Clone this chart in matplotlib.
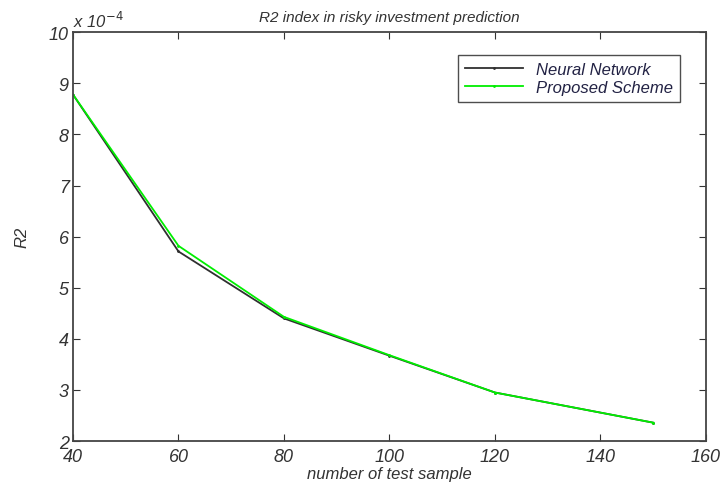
import matplotlib.pyplot as plt

plt.rcParams['font.family'] = ['Liberation Sans', 'DejaVu Sans']

samples = [40, 60, 80, 100, 120, 150]
neural_network = [8.78, 5.71, 4.40, 3.67, 2.95, 2.36]
proposed_scheme = [8.78, 5.82, 4.43, 3.68, 2.95, 2.36]

fig = plt.figure(figsize=(7.25, 4.89), dpi=100)
ax = fig.add_axes([0.1007, 0.096, 0.873, 0.836])

ax.plot(samples, neural_network, color='#303030', lw=1.3, marker='.', ms=2, label='Neural Network')
ax.plot(samples, proposed_scheme, color='#00ee00', lw=1.3, marker='.', ms=2, label='Proposed Scheme')

ax.set_xlim(40, 160)
ax.set_ylim(2, 10)
ax.set_xticks(range(40, 161, 20))
ax.set_yticks(range(2, 11))
ax.tick_params(direction='in', top=True, right=True, length=5, labelsize=13, colors='#333333', pad=3)
ax.tick_params(axis='x', pad=5)
for lbl in ax.get_xticklabels() + ax.get_yticklabels():
    lbl.set_style('italic')
for sp in ax.spines.values():
    sp.set_linewidth(1.3)
    sp.set_color('#444444')

ax.set_title('R2 index in risky investment prediction', fontsize=11, style='italic', color='#333333', pad=8)
ax.set_xlabel('number of test sample', fontsize=12, style='italic', color='#333333', labelpad=1)
ax.set_ylabel('R2', fontsize=12, style='italic', color='#333333', labelpad=14)
ax.text(0.0, 1.005, r'x 10$^{-4}$', transform=ax.transAxes, fontsize=12, style='italic', color='#333333', va='bottom', ha='left')

leg = ax.legend(loc='upper right', bbox_to_anchor=(0.972, 0.965), fontsize=12, frameon=True, fancybox=False, handlelength=3.5, borderpad=0.4, labelspacing=0.2)
leg.get_frame().set_edgecolor('#222222')
leg.get_frame().set_linewidth(1.0)
for t in leg.get_texts():
    t.set_style('italic')
    t.set_color('#222244')

fig.savefig('out.png', dpi=100)
